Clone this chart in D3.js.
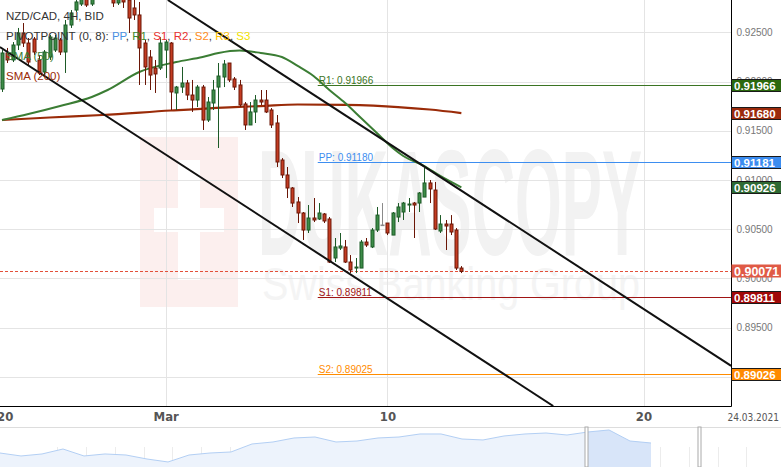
<!DOCTYPE html>
<html>
<head>
<meta charset="utf-8">
<script src="https://cdn.jsdelivr.net/npm/d3@7"></script>
<style>
  body { margin: 0; background: #fff; }
  svg { display: block; font-family: "Liberation Sans", Arial, sans-serif; }
</style>
</head>
<body>
<svg width="781" height="467"></svg>
<script>
// ---- data (4H candles, NZD/CAD) ----
const candleOpen = [
  0.91924, 0.92290, 0.92219, 0.92371, 0.92493, 0.92391, 0.92432, 0.92219, 0.92097, 0.92249,
  0.92320, 0.92422, 0.92300, 0.92574, 0.92726, 0.92787, 0.92848, 0.92787, 0.92858, 0.92970,
  0.92930, 0.92879, 0.92798, 0.92869, 0.92828, 0.92747, 0.92676, 0.92391, 0.92249, 0.92137,
  0.92137, 0.92320, 0.92391, 0.91884, 0.91944, 0.91985, 0.91863, 0.91812, 0.91944, 0.91609,
  0.91782, 0.91944, 0.92046, 0.92188, 0.92026, 0.91965, 0.91772, 0.91559, 0.91691, 0.91812,
  0.91812, 0.91711, 0.91579, 0.91203, 0.91051, 0.90919, 0.90777, 0.90665, 0.90492, 0.90614,
  0.90604, 0.90655, 0.90604, 0.90208, 0.90309, 0.90320, 0.90167, 0.90106, 0.90106, 0.90370,
  0.90320, 0.90492, 0.90543, 0.90563, 0.90441, 0.90624, 0.90675, 0.90746, 0.90766, 0.90766,
  0.90827, 0.90970, 0.90898, 0.90482, 0.90553, 0.90553, 0.90492, 0.90106
];
const candleHigh = [
  0.92320, 0.92341, 0.92401, 0.92544, 0.92594, 0.92442, 0.92452, 0.92269, 0.92320, 0.92473,
  0.92473, 0.92442, 0.92625, 0.92726, 0.92828, 0.92889, 0.92889, 0.92909, 0.93011, 0.93031,
  0.92980, 0.92919, 0.92879, 0.92909, 0.92858, 0.92828, 0.92808, 0.92422, 0.92320, 0.92219,
  0.92452, 0.92422, 0.92401, 0.91955, 0.92148, 0.92016, 0.92016, 0.91965, 0.91965, 0.91843,
  0.92016, 0.92188, 0.92219, 0.92188, 0.92046, 0.92016, 0.91792, 0.91792, 0.91863, 0.91914,
  0.91914, 0.91731, 0.91660, 0.91223, 0.91132, 0.90929, 0.90827, 0.90675, 0.90746, 0.90817,
  0.90766, 0.90665, 0.90624, 0.90411, 0.90462, 0.90391, 0.90238, 0.90208, 0.90391, 0.90411,
  0.90512, 0.90726, 0.90766, 0.90563, 0.90675, 0.90766, 0.90777, 0.90817, 0.90777, 0.90878,
  0.91122, 0.91000, 0.90980, 0.90644, 0.90594, 0.90644, 0.90512, 0.90126
];
const candleLow = [
  0.91894, 0.92188, 0.92198, 0.92320, 0.92351, 0.92168, 0.92269, 0.92066, 0.92066, 0.92219,
  0.92300, 0.92269, 0.92087, 0.92544, 0.92706, 0.92767, 0.92757, 0.92767, 0.92838, 0.92889,
  0.92848, 0.92757, 0.92777, 0.92747, 0.92493, 0.92625, 0.91965, 0.91965, 0.91914, 0.91884,
  0.92117, 0.92036, 0.91711, 0.91711, 0.91884, 0.91812, 0.91691, 0.91741, 0.91508, 0.91589,
  0.91711, 0.91325, 0.91944, 0.91995, 0.91914, 0.91741, 0.91508, 0.91559, 0.91579, 0.91762,
  0.91680, 0.91528, 0.91132, 0.91020, 0.90817, 0.90726, 0.90563, 0.90391, 0.90462, 0.90573,
  0.90594, 0.90563, 0.90157, 0.90167, 0.90289, 0.90157, 0.90055, 0.90055, 0.90106, 0.90320,
  0.90309, 0.90472, 0.90543, 0.90441, 0.90441, 0.90573, 0.90594, 0.90675, 0.90411, 0.90675,
  0.90827, 0.90766, 0.90492, 0.90462, 0.90289, 0.90441, 0.90086, 0.90055
];
const candleClose = [
  0.92290, 0.92219, 0.92371, 0.92493, 0.92391, 0.92198, 0.92300, 0.92097, 0.92300, 0.92452,
  0.92442, 0.92300, 0.92574, 0.92696, 0.92808, 0.92858, 0.92777, 0.92848, 0.92970, 0.92930,
  0.92879, 0.92798, 0.92848, 0.92808, 0.92645, 0.92676, 0.92341, 0.92148, 0.92066, 0.92077,
  0.92391, 0.92401, 0.91894, 0.91944, 0.91985, 0.91863, 0.91812, 0.91944, 0.91609, 0.91792,
  0.91914, 0.92056, 0.92178, 0.92016, 0.91944, 0.91762, 0.91559, 0.91691, 0.91812, 0.91792,
  0.91691, 0.91559, 0.91183, 0.91051, 0.90919, 0.90766, 0.90665, 0.90492, 0.90614, 0.90594,
  0.90665, 0.90584, 0.90167, 0.90320, 0.90330, 0.90167, 0.90086, 0.90116, 0.90370, 0.90340,
  0.90492, 0.90644, 0.90543, 0.90462, 0.90665, 0.90726, 0.90766, 0.90756, 0.90746, 0.90868,
  0.90970, 0.90909, 0.90502, 0.90553, 0.90533, 0.90472, 0.90106, 0.90071
];

// moving averages, sampled at candle indices
const sma50Index  = [0, 5, 11, 17, 20, 26, 33, 38, 41, 45, 49, 53, 56, 59, 62, 65, 68, 71, 74, 76, 80, 83, 87];
const sma50Value  = [0.91609, 0.91670, 0.91752, 0.91843, 0.91914, 0.92097, 0.92198, 0.92249, 0.92290, 0.92315,
                     0.92290, 0.92249, 0.92158, 0.92056, 0.91914, 0.91782, 0.91630, 0.91477, 0.91325, 0.91244,
                     0.91142, 0.91041, 0.90926];
const sma200Index = [0, 9, 19, 32, 44, 49, 56, 65, 75, 81, 87];
const sma200Value = [0.91609, 0.91635, 0.91660, 0.91706, 0.91741, 0.91751, 0.91767, 0.91762, 0.91741, 0.91716, 0.91680];

// trend channel (index, price) end points
const upperChannelIdx   = [31.4, 138.1];
const upperChannelPrice = [0.92828, 0.89113];
const lowerChannelIdx   = [-0.4, 104.4];
const lowerChannelPrice = [0.92351, 0.88705];

// pivot points
const pivotNames  = ['R1', 'PP', 'S1', 'S2'];
const pivotValues = [0.91966, 0.91180, 0.89811, 0.89025];
const pivotColors = ['#3b7423', '#3d8ef0', '#a01414', '#ff8c00'];
const pivotStartIdx = 59.8;

// price badges on the right axis
const badgeValues = [0.91966, 0.91680, 0.91181, 0.90926, 0.89811, 0.89026];
const badgeColors = ['#2c690e', '#9b2a0b', '#3b8cf0', '#2e6a33', '#a00808', '#ff8a00'];

// axes
const priceTicks = [0.890, 0.895, 0.900, 0.905, 0.910, 0.915, 0.920, 0.925];
const dayTickIdx = [0.5, 31, 73, 121.5];
const dayTickLabels = ['20', 'Mar', '10', '20'];

// legend
const legendNames  = ['PP', 'R1', 'S1', 'R2', 'S2', 'R3', 'S3'];
const legendColors = ['#4a90e2', '#3c8a2e', '#e8312f', '#e8312f', '#ff8c1a', '#ffc000', '#f2e200'];

// navigator (longer history)
const navValues = [0.8715, 0.8648, 0.8693, 0.8805, 0.8648, 0.8693, 0.8670, 0.8580, 0.8513, 0.8670,
                   0.8715, 0.8738, 0.8918, 0.8963, 0.9053, 0.9075, 0.8963, 0.8985, 0.9053, 0.9075,
                   0.9143, 0.9143, 0.9030, 0.9008, 0.9098, 0.9143, 0.9165, 0.9120, 0.9188, 0.9233,
                   0.8985, 0.8940];
const navWindow = [27.9, 33.3];

// ---- layout ----
const svg = d3.select('svg');
const plotW = 731, plotH = 406;

const x = d3.scaleLinear().domain([-0.38, 138.07]).range([0, plotW]);
const y = d3.scaleLinear().domain([0.88705, 0.92828]).range([plotH, 0]);

svg.append('defs').append('clipPath').attr('id', 'plotclip')
  .append('rect').attr('width', plotW).attr('height', plotH);

// watermark
const wm = svg.append('g');
wm.append('rect').attr('x', 140).attr('y', 137).attr('width', 98).attr('height', 170).attr('fill', '#fcefee');
wm.append('rect').attr('x', 178).attr('y', 160).attr('width', 22).attr('height', 120).attr('fill', '#fff');
wm.append('rect').attr('x', 154).attr('y', 208).attr('width', 70).attr('height', 24).attr('fill', '#fff');
wm.append('text').attr('x', 258).attr('y', 255).attr('textLength', 384).attr('lengthAdjust', 'spacingAndGlyphs')
  .style('font-size', '150px').style('font-weight', 'bold').attr('fill', '#f2f2f2').text('DUKASCOPY');
wm.append('text').attr('x', 262).attr('y', 300).attr('textLength', 378).attr('lengthAdjust', 'spacingAndGlyphs')
  .style('font-size', '46px').attr('fill', '#f4f4f4').text('Swiss Banking Group');

// grid
svg.append('g').selectAll('line').data(priceTicks).join('line')
  .attr('x1', 0).attr('x2', plotW)
  .attr('y1', d => Math.round(y(d)) + 0.5).attr('y2', d => Math.round(y(d)) + 0.5)
  .attr('stroke', '#e4e4e4');
svg.append('g').selectAll('line').data(dayTickIdx.slice(1)).join('line')
  .attr('x1', d => Math.round(x(d)) + 0.5).attr('x2', d => Math.round(x(d)) + 0.5)
  .attr('y1', 0).attr('y2', plotH)
  .attr('stroke', '#e4e4e4');

const plot = svg.append('g').attr('clip-path', 'url(#plotclip)');

// pivot lines
pivotNames.forEach((name, k) => {
  const py = Math.round(y(pivotValues[k])) + 0.5;
  plot.append('line')
    .attr('x1', x(pivotStartIdx)).attr('x2', plotW)
    .attr('y1', py).attr('y2', py)
    .attr('stroke', pivotColors[k]).attr('stroke-width', 1);
  plot.append('text')
    .attr('x', x(pivotStartIdx) + 1).attr('y', py - 2)
    .attr('fill', pivotColors[k])
    .style('font-size', '10px')
    .text(name + ': ' + pivotValues[k].toFixed(5));
});

// current price dashed line
const lastClose = candleClose[candleClose.length - 1];
plot.append('line')
  .attr('x1', 0).attr('x2', plotW)
  .attr('y1', Math.round(y(lastClose)) + 0.5).attr('y2', Math.round(y(lastClose)) + 0.5)
  .attr('stroke', '#e2503a').attr('stroke-dasharray', '3,2');

// moving averages
const smaLine = d3.line().curve(d3.curveMonotoneX).x(d => x(d[0])).y(d => y(d[1]));
plot.append('path')
  .attr('d', smaLine(d3.zip(sma200Index, sma200Value)))
  .attr('fill', 'none').attr('stroke', '#9a2b08').attr('stroke-width', 2.2);
plot.append('path')
  .attr('d', smaLine(d3.zip(sma50Index, sma50Value)))
  .attr('fill', 'none').attr('stroke', '#3b7d34').attr('stroke-width', 2);

// candles
const candles = candleOpen.map((o, i) => ({ i, o, h: candleHigh[i], l: candleLow[i], c: candleClose[i] }));
const fillOf = d => d.c > d.o ? '#3d8c48' : d.c < d.o ? '#c43c22' : '#9a9a9a';
const edgeOf = d => d.c > d.o ? '#1d5a27' : d.c < d.o ? '#6a1606' : '#8a8a8a';
const cx = d => Math.round(x(d.i)) + 0.5;

plot.append('g').selectAll('line').data(candles).join('line')
  .attr('x1', cx).attr('x2', cx)
  .attr('y1', d => y(d.h)).attr('y2', d => y(d.l))
  .attr('stroke', edgeOf);
plot.append('g').selectAll('rect').data(candles).join('rect')
  .attr('x', d => cx(d) - 1.5)
  .attr('width', 3)
  .attr('y', d => y(Math.max(d.o, d.c)))
  .attr('height', d => Math.max(0.6, Math.abs(y(d.o) - y(d.c))))
  .attr('fill', fillOf)
  .attr('stroke', edgeOf).attr('stroke-width', 1);

// channel lines
const chLine = d3.line().x(d => x(d[0])).y(d => y(d[1]));
plot.append('path').attr('d', chLine(d3.zip(upperChannelIdx, upperChannelPrice)))
  .attr('stroke', '#111').attr('stroke-width', 2).attr('fill', 'none');
plot.append('path').attr('d', chLine(d3.zip(lowerChannelIdx, lowerChannelPrice)))
  .attr('stroke', '#111').attr('stroke-width', 2).attr('fill', 'none');

// frame: bottom and right axis line
svg.append('line').attr('x1', 0).attr('x2', plotW + 0.5).attr('y1', plotH + 0.5).attr('y2', plotH + 0.5)
  .attr('stroke', '#000');

const yAxis = svg.append('g')
  .attr('transform', `translate(${plotW + 0.5},0)`)
  .call(d3.axisRight(y).tickValues(priceTicks).tickFormat(d3.format('.5f')).tickSize(0).tickPadding(5));
yAxis.select('.domain').attr('stroke', '#000').attr('d', `M0,0V${plotH + 0.5}`);
yAxis.selectAll('text').attr('fill', '#777').style('font-size', '10px').style('font-family', '"Liberation Sans", Arial, sans-serif');

// price badges
const badges = svg.append('g');
badgeValues.forEach((v, k) => {
  const by = y(v);
  badges.append('rect')
    .attr('x', plotW + 0.5).attr('y', Math.round(by) - 6 + 0.5)
    .attr('width', 50).attr('height', 12)
    .attr('fill', badgeColors[k]).attr('stroke', '#1a1a1a');
  badges.append('text')
    .attr('x', plotW + 3).attr('y', Math.round(by) + 4.5)
    .attr('fill', '#fff').style('font-size', '11.5px').style('font-weight', 'bold')
    .text(v.toFixed(5));
});
badges.append('rect')
  .attr('x', plotW + 0.5).attr('y', Math.round(y(lastClose)) - 6.5)
  .attr('width', 50).attr('height', 13)
  .attr('fill', '#e05a46');
badges.append('text')
  .attr('x', plotW + 3).attr('y', Math.round(y(lastClose)) + 5)
  .attr('fill', '#fff').style('font-size', '12.5px').style('font-weight', 'bold')
  .text(lastClose.toFixed(5));

// time axis
const xAxis = svg.append('g')
  .attr('transform', `translate(0,${plotH})`)
  .call(d3.axisBottom(x).tickValues(dayTickIdx).tickFormat((d, i) => dayTickLabels[i]).tickSize(0).tickPadding(6));
xAxis.select('.domain').remove();
xAxis.selectAll('text')
  .attr('fill', '#555')
  .style('font-size', '13px').style('font-weight', 'bold')
  .style('font-family', '"Liberation Sans Narrow", "DejaVu Sans Condensed", sans-serif');

svg.append('text').attr('x', 779).attr('y', 421).attr('text-anchor', 'end')
  .attr('fill', '#555').style('font-size', '10px')
  .style('font-family', '"Liberation Sans Narrow", "DejaVu Sans Condensed", sans-serif')
  .text('24.03.2021');

// legend
svg.append('text').attr('x', 6).attr('y', 20).attr('fill', '#333').style('font-size', '11.5px')
  .text('NZD/CAD, 4H, BID');
const pivLegend = svg.append('text').attr('x', 6).attr('y', 40).attr('fill', '#333').style('font-size', '11.5px');
pivLegend.append('tspan').text('PIVOTPOINT (0, 8): ');
legendNames.forEach((n, k) => {
  pivLegend.append('tspan').attr('fill', legendColors[k]).text(n);
  if (k < legendNames.length - 1) pivLegend.append('tspan').text(', ');
});
svg.append('text').attr('x', 6).attr('y', 60).attr('fill', '#3b7d34').style('font-size', '11.5px').text('SMA (50)');
svg.append('text').attr('x', 6).attr('y', 80).attr('fill', '#9a2b08').style('font-size', '11.5px').text('SMA (200)');

// navigator
const navTop = 427, navBottom = 467;
const nx = d3.scaleLinear().domain([0, navValues.length - 1]).range([0, 651]);
const ny = d3.scaleLinear().domain([0.84, 0.93]).range([navBottom, navTop]);
const nav = svg.append('g');
nav.selectAll('line.tk').data(d3.range(2, 27)).join('line')
  .attr('x1', d => Math.round(d * 28.7) + 0.5).attr('x2', d => Math.round(d * 28.7) + 0.5)
  .attr('y1', 447).attr('y2', navBottom).attr('stroke', '#ececec');
const navArea = d3.area().x((d, i) => nx(i)).y0(navBottom).y1(d => ny(d));
nav.append('path').attr('d', navArea(navValues)).attr('fill', '#edf3fc');
nav.append('clipPath').attr('id', 'navsel').append('rect')
  .attr('x', nx(navWindow[0])).attr('y', navTop).attr('width', nx(navWindow[1]) - nx(navWindow[0])).attr('height', 40);
nav.append('path').attr('d', navArea(navValues)).attr('fill', '#d8e5f9').attr('clip-path', 'url(#navsel)');
nav.append('path').attr('d', d3.line().x((d, i) => nx(i)).y(d => ny(d))(navValues))
  .attr('fill', 'none').attr('stroke', '#b3cff4');
nav.append('line').attr('x1', 0).attr('x2', 781).attr('y1', navTop + 0.5).attr('y2', navTop + 0.5).attr('stroke', '#ddd');
navWindow.forEach(w => {
  nav.append('rect').attr('x', Math.round(nx(w)) - 1).attr('y', navTop).attr('width', 3).attr('height', 40)
    .attr('fill', '#fff').attr('stroke', '#aaa');
});
</script>
</body>
</html>
